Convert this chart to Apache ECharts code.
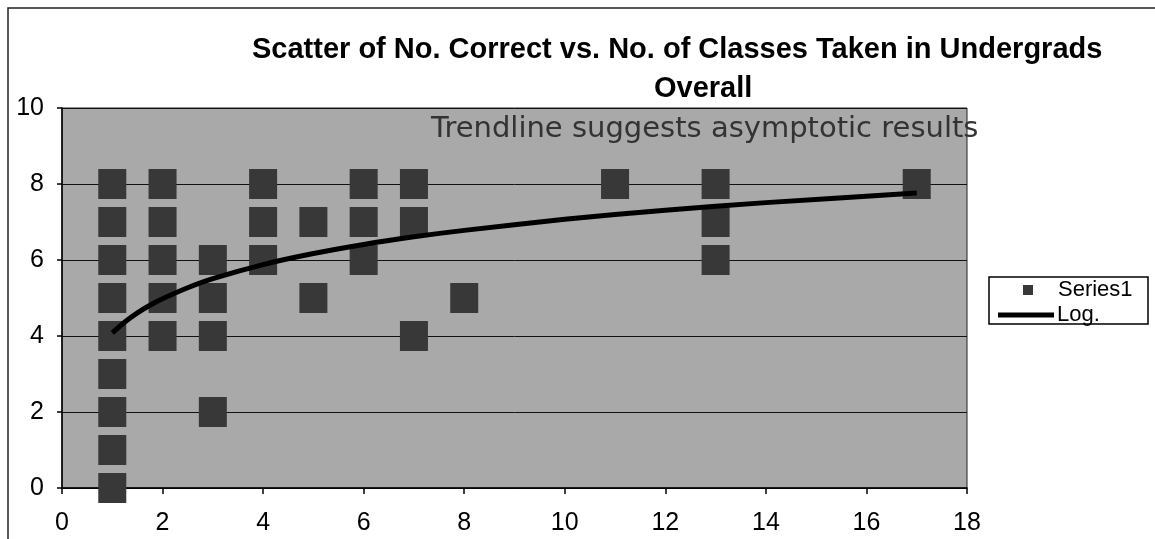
<!DOCTYPE html>
<html>
<head>
<meta charset="utf-8">
<script src="https://cdn.jsdelivr.net/npm/echarts@6/dist/echarts.min.js"></script>
<style>
  html, body { margin: 0; padding: 0; background: #fff; }
  #chart { width: 1155px; height: 539px; }
</style>
</head>
<body>
<div id="chart"></div>
<script>
// No. of classes taken (x) and no. correct (y), one entry per student
const classesTaken = [1, 1, 1, 1, 1, 1, 1, 1, 1,
  2, 2, 2, 2, 2,
  3, 3, 3, 3,
  4, 4, 4,
  5, 5,
  6, 6, 6,
  7, 7, 7,
  8,
  11,
  13, 13, 13,
  17]
const numCorrect = [8, 7, 6, 5, 4, 3, 2, 1, 0,
  8, 7, 6, 5, 4,
  6, 5, 4, 2,
  8, 7, 6,
  7, 5,
  8, 7, 6,
  8, 7, 4,
  5,
  8,
  8, 7, 6,
  8]

// Log trendline, values
const trendX = [1, 1.25, 1.5, 1.75, 2, 2.5, 3, 4, 5, 6, 7, 8, 10, 12, 14, 17]
const trendY = [4.08, 4.37, 4.61, 4.81, 4.98, 5.27, 5.51, 5.88, 6.17, 6.41, 6.61, 6.78, 7.07, 7.31, 7.51, 7.76]

const xTicks = { min: 0, max: 18, interval: 2 }
const yTicks = { min: 0, max: 10, interval: 2 }

const scatterData = classesTaken.map((x, i) => [x, numCorrect[i]])
const trendData = trendX.map((x, i) => [x, trendY[i]])

const font = '"Liberation Sans", Arial, sans-serif'

const chart = echarts.init(document.getElementById('chart'), null, { renderer: 'canvas' })

chart.setOption({
  animation: false,
  backgroundColor: '#fff',
  title: [
    {
      text: 'Scatter of No. Correct vs. No. of Classes Taken in Undergrads',
      left: 252,
      top: 35,
      padding: 0,
      textStyle: { fontFamily: font, fontWeight: 'bold', fontSize: 29, color: '#000' },
    },
    {
      text: 'Overall',
      left: 654,
      top: 74,
      padding: 0,
      textStyle: { fontFamily: font, fontWeight: 'bold', fontSize: 29, color: '#000' },
    },
    {
      text: 'Trendline suggests asymptotic results',
      left: 426,
      top: 110,
      textStyle: {
        fontFamily: '"DejaVu Sans", sans-serif',
        fontWeight: 'normal',
        fontSize: 29,
        color: '#333',
      },
    },
  ],
  legend: [
    {
      data: ['Series1'],
      left: 1023,
      top: 279,
      padding: 0,
      itemWidth: 10,
      itemHeight: 10,
      icon: 'rect',
      textStyle: { fontFamily: font, fontSize: 22, color: '#000', padding: [0, 0, 0, 20] },
      z: 5,
    },
    {
      data: ['Log.'],
      left: 998,
      top: 304,
      padding: 0,
      itemWidth: 56,
      itemHeight: 5,
      icon: 'rect',
      textStyle: { fontFamily: font, fontSize: 22, color: '#000', padding: [0, 0, 0, -2] },
      z: 5,
    },
  ],
  graphic: [
    {
      type: 'rect',
      z: 0,
      shape: { x: 8, y: 8, width: 1200, height: 600 },
      style: { fill: 'none', stroke: '#222', lineWidth: 1.5 },
    },
    {
      type: 'rect',
      z: 1,
      shape: { x: 989, y: 277, width: 159, height: 47 },
      style: { fill: '#fff', stroke: '#000', lineWidth: 1.5 },
    },
  ],
  grid: {
    left: 62,
    right: 188,
    top: 108,
    bottom: 51,
    show: true,
    backgroundColor: '#a9a9a9',
    borderColor: '#222',
    borderWidth: 1,
  },
  xAxis: {
    type: 'value',
    ...xTicks,
    axisLine: { show: true, lineStyle: { color: '#000', width: 1.5 } },
    axisTick: { show: true, length: 6, lineStyle: { color: '#000', width: 1.5 } },
    axisLabel: { fontFamily: font, fontSize: 25, color: '#000', margin: 23 },
    splitLine: { show: false },
  },
  yAxis: {
    type: 'value',
    ...yTicks,
    axisLine: { show: true, lineStyle: { color: '#000', width: 1.5 } },
    axisTick: { show: true, length: 5, lineStyle: { color: '#000', width: 1.5 } },
    axisLabel: { fontFamily: font, fontSize: 25, color: '#000', margin: 18 },
    splitLine: { show: true, lineStyle: { color: '#111', width: 1 } },
  },
  series: [
    {
      name: 'Series1',
      type: 'scatter',
      data: scatterData,
      symbol: 'rect',
      symbolSize: [28, 30],
      clip: false,
      itemStyle: { color: '#383838', opacity: 1 },
      z: 2,
    },
    {
      name: 'Log.',
      type: 'line',
      data: trendData,
      smooth: 0.3,
      symbol: 'none',
      showSymbol: false,
      lineStyle: { color: '#000', width: 5 },
      itemStyle: { color: '#000' },
      z: 3,
    },
  ],
})
</script>
</body>
</html>
